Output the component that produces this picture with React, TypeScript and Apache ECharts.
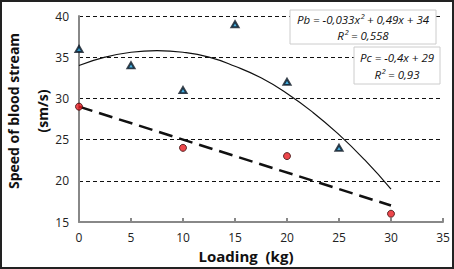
import React, { useEffect, useRef } from "react";
import * as echarts from "echarts";

const pbX = [0, 5, 10, 15, 20, 25];
const pbY = [36, 34, 31, 39, 32, 24];
const pcX = [0, 10, 20, 30];
const pcY = [29, 24, 23, 16];
const pbTrendX = [0, 2.5, 5, 7.5, 10, 12.5, 15, 17.5, 20, 22.5, 25, 27.5, 30];
const pbTrendY = [34, 35.0, 35.6, 35.8, 35.6, 35.0, 33.9, 32.5, 30.6, 28.3, 25.6, 22.5, 19.0];
const pcTrendX = [0, 30];
const pcTrendY = [29, 17];
const xTicks = [0, 5, 10, 15, 20, 25, 30, 35];
const yTicks = [15, 20, 25, 30, 35, 40];
const pbEq = ["Pb = -0,033x² + 0,49x + 34", "R² = 0,558"];
const pcEq = ["Pc = -0,4x + 29", "R² = 0,93"];

const FONT = "Open Sans";

export default function App() {
  const ref = useRef<HTMLDivElement>(null);
  useEffect(() => {
    document.body.style.margin = "0";
    const chart = echarts.init(ref.current!, undefined, { renderer: "svg" });
    const zip = (xs: number[], ys: number[]) => xs.map((x, i) => [x, ys[i]]);
    chart.setOption({
      animation: false,
      backgroundColor: "#fff",
      grid: { left: 79, right: 11, top: 16, bottom: 47 },
      xAxis: {
        type: "value",
        min: xTicks[0],
        max: xTicks[xTicks.length - 1],
        interval: 5,
        axisLine: { lineStyle: { color: "#888", width: 2 } },
        axisTick: { show: true, inside: true, length: 4, lineStyle: { color: "#888", width: 2 } },
        axisLabel: { color: "#222", fontSize: 12, fontFamily: FONT, margin: 9 },
        splitLine: { show: false },
      },
      yAxis: {
        type: "value",
        min: yTicks[0],
        max: yTicks[yTicks.length - 1],
        interval: 5,
        axisLine: { show: true, lineStyle: { color: "#888", width: 2 } },
        axisTick: { show: false },
        axisLabel: { color: "#222", fontSize: 12, fontFamily: FONT, margin: 10 },
        splitLine: { show: true, lineStyle: { color: "#111", type: [4, 3], width: 1 } },
      },
      series: [
        {
          type: "line",
          data: zip(pbTrendX, pbTrendY),
          smooth: true,
          showSymbol: false,
          lineStyle: { color: "#111", width: 1.2 },
          z: 2,
        },
        {
          type: "line",
          data: zip(pcTrendX, pcTrendY),
          showSymbol: false,
          lineStyle: { color: "#111", width: 2.5, type: [14, 7] },
          z: 2,
        },
        {
          type: "scatter",
          data: zip(pbX, pbY),
          symbol: "triangle",
          symbolSize: [7, 6],
          itemStyle: { color: "#1a9ad6", borderColor: "#0a1420", borderWidth: 2 },
          z: 3,
        },
        {
          type: "scatter",
          data: zip(pcX, pcY),
          symbol: "circle",
          symbolSize: 7,
          itemStyle: { color: "#e8191f", borderColor: "#3a0a0a", borderWidth: 1 },
          z: 3,
        },
      ],
      graphic: [
        {
          type: "rect",
          shape: { x: 1, y: 1, width: 452, height: 267 },
          style: { fill: "none", stroke: "#222", lineWidth: 2 },
          z: 10,
        },
        {
          type: "text",
          x: 13,
          y: 111,
          rotation: Math.PI / 2,
          style: {
            text: "Speed of blood stream",
            font: `bold 14px "${FONT}"`,
            fill: "#111",
            align: "center",
            verticalAlign: "middle",
          },
        },
        {
          type: "text",
          x: 42,
          y: 111,
          rotation: Math.PI / 2,
          style: {
            text: "(sm/s)",
            font: `bold 14px "${FONT}"`,
            fill: "#111",
            align: "center",
            verticalAlign: "middle",
          },
        },
        {
          type: "text",
          x: 246,
          y: 256,
          style: {
            text: "Loading  (kg)",
            font: `bold 15px "${FONT}"`,
            fill: "#111",
            align: "center",
            verticalAlign: "middle",
          },
        },
        {
          type: "rect",
          shape: { x: 290, y: 10, width: 146, height: 34 },
          style: { fill: "#fff", stroke: "#ccc", lineWidth: 1 },
          z: 5,
        },
        {
          type: "text",
          x: 363,
          y: 19,
          z: 6,
          style: {
            text: pbEq[0],
            font: `italic 11.5px "${FONT}"`,
            fill: "#111",
            align: "center",
            verticalAlign: "middle",
          },
        },
        {
          type: "text",
          x: 363,
          y: 35,
          z: 6,
          style: {
            text: pbEq[1],
            font: `italic 11.5px "${FONT}"`,
            fill: "#111",
            align: "center",
            verticalAlign: "middle",
          },
        },
        {
          type: "rect",
          shape: { x: 354, y: 47, width: 86, height: 37 },
          style: { fill: "#fff", stroke: "#ccc", lineWidth: 1 },
          z: 5,
        },
        {
          type: "text",
          x: 397,
          y: 57,
          z: 6,
          style: {
            text: pcEq[0],
            font: `italic 11.5px "${FONT}"`,
            fill: "#111",
            align: "center",
            verticalAlign: "middle",
          },
        },
        {
          type: "text",
          x: 397,
          y: 74,
          z: 6,
          style: {
            text: pcEq[1],
            font: `italic 11.5px "${FONT}"`,
            fill: "#111",
            align: "center",
            verticalAlign: "middle",
          },
        },
      ],
    });
    return () => chart.dispose();
  }, []);
  return <div ref={ref} style={{ width: 454, height: 269, position: "absolute", left: 0, top: 0 }} />;
}
